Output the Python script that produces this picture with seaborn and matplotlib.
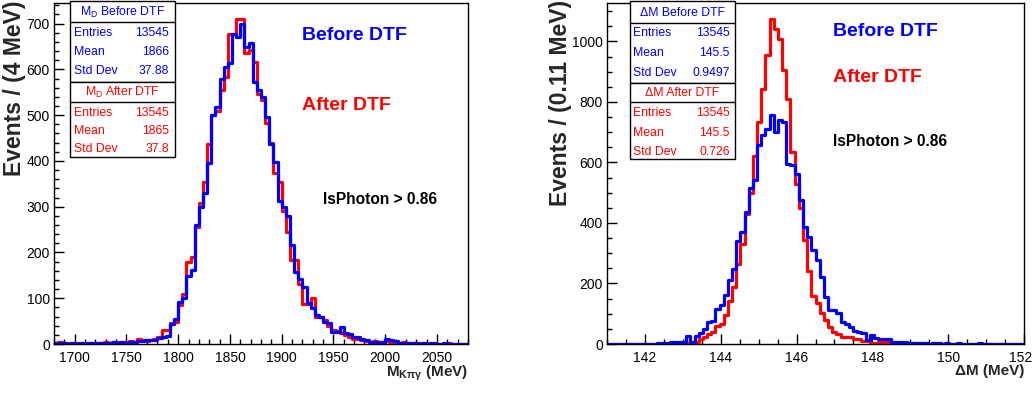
import numpy as np
import pandas as pd
import matplotlib
matplotlib.use("Agg")
import matplotlib.pyplot as plt
import matplotlib.transforms as mtransforms
import seaborn as sns
from matplotlib.patches import Rectangle
from matplotlib.ticker import MultipleLocator

# ---------------- data ----------------
md_range = (1680, 2080)   # 100 bins of 4 MeV
md_before = [2, 3, 2, 1, 2, 1, 2, 1, 2, 3,
             2, 3, 2, 3, 4, 2, 4, 3, 5, 5,
             7, 6, 8, 9, 9, 14, 16, 18, 43, 55,
             92, 100, 148, 162, 260, 300, 330, 395, 500, 517,
             578, 605, 614, 677, 671, 699, 649, 658, 572, 555,
             540, 495, 437, 398, 312, 300, 280, 216, 158, 141,
             124, 89, 78, 63, 60, 49, 45, 27, 27, 38,
             23, 21, 16, 15, 12, 9, 5, 5, 5, 5,
             10, 8, 7, 3, 2, 3, 2, 2, 1, 2,
             1, 2, 1, 1, 2, 1, 1, 0, 1, 1]
md_after = [3, 4, 2, 2, 1, 2, 1, 2, 3, 2,
            3, 2, 4, 3, 3, 4, 3, 5, 6, 4,
            11, 9, 7, 8, 10, 16, 31, 30, 45, 48,
            85, 110, 180, 191, 256, 308, 354, 438, 500, 509,
            555, 584, 678, 678, 711, 711, 635, 642, 616, 547,
            533, 482, 439, 373, 355, 290, 245, 183, 183, 130,
            88, 88, 100, 60, 58, 52, 40, 30, 28, 25,
            20, 15, 12, 10, 8, 6, 5, 7, 5, 4,
            7, 4, 3, 3, 4, 2, 3, 2, 2, 1,
            2, 1, 1, 0, 1, 2, 1, 1, 0, 1]

dm_range = (141, 152)     # 100 bins of 0.11 MeV
dm_before = [0, 0, 1, 0, 0, 1, 0, 1, 0, 1,
             1, 1, 3, 2, 3, 5, 6, 6, 6, 26,
             8, 27, 37, 49, 72, 76, 115, 129, 162, 211,
             248, 340, 371, 437, 517, 541, 657, 690, 712, 757,
             701, 739, 733, 596, 591, 563, 475, 387, 352, 310,
             279, 222, 154, 112, 112, 101, 74, 66, 57, 44,
             41, 35, 13, 30, 19, 15, 15, 15, 6, 6,
             6, 6, 3, 2, 4, 2, 3, 1, 2, 3,
             1, 2, 1, 1, 2, 1, 0, 1, 1, 2,
             1, 0, 1, 1, 0, 1, 0, 1, 0, 1]
dm_after = [0, 0, 0, 1, 0, 0, 0, 1, 0, 0,
            0, 1, 0, 1, 1, 1, 2, 2, 3, 4,
            6, 8, 16, 24, 33, 41, 61, 65, 96, 143,
            190, 265, 330, 430, 500, 620, 734, 844, 954, 1075,
            1042, 1009, 904, 811, 635, 530, 448, 343, 240, 160,
            134, 101, 79, 57, 41, 33, 24, 22, 22, 15,
            15, 11, 11, 3, 3, 8, 8, 8, 3, 2,
            2, 3, 1, 2, 1, 2, 1, 1, 2, 1,
            1, 0, 1, 1, 0, 1, 1, 0, 1, 0,
            0, 1, 0, 0, 1, 0, 0, 1, 0, 0]

md_stats_before = ["13545", "1866", "37.88"]
md_stats_after = ["13545", "1865", "37.8"]
dm_stats_before = ["13545", "145.5", "0.9497"]
dm_stats_after = ["13545", "145.5", "0.726"]
stat_names = ["Entries", "Mean", "Std Dev"]

# ---------------- style ----------------
sns.set_style("white")
FONT = ["Liberation Sans", "DejaVu Sans"]
plt.rcParams["font.family"] = FONT
plt.rcParams["mathtext.fontset"] = "custom"
plt.rcParams["mathtext.rm"] = "Liberation Sans:bold"
plt.rcParams["mathtext.it"] = "Liberation Sans:bold"
plt.rcParams["mathtext.bf"] = "Liberation Sans:bold"
plt.rcParams["mathtext.default"] = "regular"

W, H = 1033, 394
fig = plt.figure(figsize=(W / 100, H / 100), dpi=100)


def fx(x):
    return x / W


def fy(y):
    return 1 - y / H


def make_axes(x0, x1, y0, y1):
    return fig.add_axes([fx(x0), fy(y1), (x1 - x0) / W, (y1 - y0) / H])


BLUE = (0, 0, 1)
RED = (1, 0, 0)


def draw_hist(ax, rng, before, after):
    nb = len(before)
    edges = np.linspace(rng[0], rng[1], nb + 1)
    centers = 0.5 * (edges[:-1] + edges[1:])
    df = pd.DataFrame({
        "x": np.concatenate([centers, centers]),
        "w": np.concatenate([after, before]).astype(float),
        "series": ["After DTF"] * nb + ["Before DTF"] * nb,
    })
    for name, col in [("After DTF", RED), ("Before DTF", BLUE)]:
        sub = df[df["series"] == name].reset_index(drop=True)
        sns.histplot(data=sub, x="x", weights="w", bins=nb, binrange=rng,
                     element="step", fill=False, color=col, linewidth=2.3, ax=ax)


def style_axes(ax, xlim, ylim, xmaj, xmin, ymaj, ymin):
    ax.set_xlim(*xlim)
    ax.set_ylim(*ylim)
    ax.xaxis.set_major_locator(MultipleLocator(xmaj))
    ax.xaxis.set_minor_locator(MultipleLocator(xmin))
    ax.yaxis.set_major_locator(MultipleLocator(ymaj))
    ax.yaxis.set_minor_locator(MultipleLocator(ymin))
    ax.tick_params(which="both", direction="in", bottom=True, left=True,
                   top=False, right=False, width=1.0, colors="black",
                   labelsize=10)
    ax.tick_params(which="major", length=7.5)
    ax.tick_params(which="minor", length=3.8)
    ax.tick_params(axis="x", pad=5)
    ax.tick_params(axis="y", pad=3)
    for s in ax.spines.values():
        s.set_visible(True)
        s.set_color("black")
        s.set_linewidth(1.0)
    ax.set_xlabel("")
    ax.set_ylabel("")


def set_labels(ax, ylab, ylab_x_px, ax_x0, ax_w, xlab, xlab_y_px):
    ax.set_ylabel(ylab, fontsize=16.5, fontweight="bold")
    lab = ax.yaxis.label
    lab.set_rotation_mode("default")
    lab.set_ha("center")
    lab.set_va("top")
    ax.yaxis.set_label_coords((ylab_x_px - ax_x0) / ax_w, 1.0 + 3 / 341)
    ax.set_xlabel(xlab, fontsize=11, fontweight="bold")
    xl = ax.xaxis.label
    xl.set_ha("right")
    xl.set_va("center")
    ax.xaxis.set_label_coords(1.0, (344 - xlab_y_px) / 341)


def stats_box(x0, x1, y_top, y_mid, y_bot, title_h1, title_h2, title_b, title_a,
              vals_b, vals_a, rows_b, rows_a, tx, vx):
    for (ya, yb, col, title, vals, rows, th) in [
            (y_top, y_mid, BLUE, title_b, vals_b, rows_b, title_h1),
            (y_mid, y_bot, RED, title_a, vals_a, rows_a, title_h2)]:
        fig.patches.append(Rectangle((fx(x0), fy(yb)), (x1 - x0) / W, (yb - ya) / H,
                                     transform=fig.transFigure, facecolor="white",
                                     edgecolor="black", linewidth=1.0, zorder=5))
        fig.lines.append(plt.Line2D([fx(x0), fx(x1)], [fy(ya + th), fy(ya + th)],
                                    transform=fig.transFigure, color="black",
                                    linewidth=1.0, zorder=6))
        fig.text(fx((x0 + x1) / 2), fy(ya + th / 2 + 0.5), title, color=col,
                 ha="center", va="center", fontsize=8.8, zorder=7)
        for name, v, yy in zip(stat_names, vals, rows):
            fig.text(fx(tx), fy(yy), name, color=col, ha="left", va="center",
                     fontsize=8.8, zorder=7)
            fig.text(fx(vx), fy(yy), v, color=col, ha="right", va="center",
                     fontsize=8.8, zorder=7)


# ---------------- left panel ----------------
axL = make_axes(54, 468, 3, 344)
draw_hist(axL, md_range, md_before, md_after)
style_axes(axL, md_range, (0, 745), 50, 10, 100, 20)
set_labels(axL, "Events / (4 MeV)", 15, 54, 414,
           r"M$_{K\pi\gamma}$ (MeV)", 373)

# ---------------- right panel ----------------
axR = make_axes(607, 1024, 3, 344)
draw_hist(axR, dm_range, dm_before, dm_after)
style_axes(axR, dm_range, (0, 1127), 2, 0.5, 200, 50)
set_labels(axR, "Events / (0.11 MeV)", 560, 607, 417, "ΔM (MeV)", 371)

# ---------------- stats boxes ----------------
stats_box(70, 175, 1, 82, 157, 21, 20, r"M$_{D}$ Before DTF", r"M$_{D}$ After DTF",
          md_stats_before, md_stats_after, [33, 52, 71], [113, 131, 149], 74, 169)
stats_box(630, 735, 1, 83, 159, 22, 19, "ΔM Before DTF", "ΔM After DTF",
          dm_stats_before, dm_stats_after, [33, 53, 73], [113, 133, 152], 633, 730)

# ---------------- annotations ----------------
for (x, y, s, c, fs) in [(302, 36, "Before DTF", BLUE, 14),
                         (302, 106, "After DTF", RED, 14),
                         (323, 199, "IsPhoton > 0.86", "black", 11.2),
                         (833, 32, "Before DTF", BLUE, 14),
                         (833, 77, "After DTF", RED, 14),
                         (833, 141, "IsPhoton > 0.86", "black", 11.2)]:
    fig.text(fx(x), fy(y), s, color=c, fontsize=fs, fontweight="bold",
             ha="left", va="center")

# keep the last tick label ("152") inside the canvas, as in the reference
fig.canvas.draw()
for tick in axR.xaxis.get_major_ticks():
    if abs(tick.get_loc() - dm_range[1]) < 1e-6:
        lab = tick.label1
        lab.set_ha("right")
        lab.set_transform(lab.get_transform() +
                          mtransforms.ScaledTranslation(8 / 100, 0, fig.dpi_scale_trans))

fig.savefig("out.png", dpi=100)
